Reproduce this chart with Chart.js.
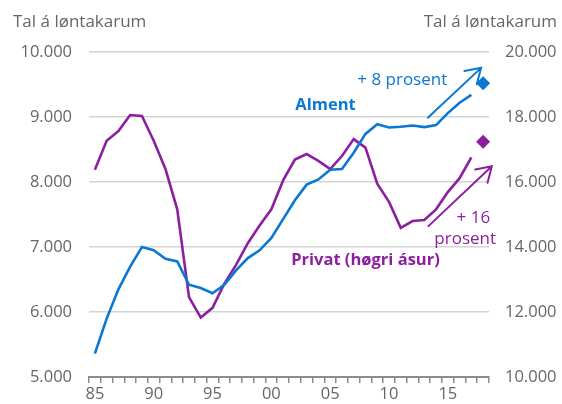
<!DOCTYPE html>
<html lang="fo">
<head>
<meta charset="UTF-8">
<title>Tal á løntakarum</title>
<script src="https://cdn.jsdelivr.net/npm/chart.js"></script>
<style>
  body { margin: 0; background: #fff; }
</style>
</head>
<body>
<canvas id="myChart" width="562" height="404"></canvas>
<script>
  // ár 1985-2018
  var aar = [1985, 1986, 1987, 1988, 1989, 1990, 1991, 1992, 1993, 1994,
             1995, 1996, 1997, 1998, 1999, 2000, 2001, 2002, 2003, 2004,
             2005, 2006, 2007, 2008, 2009, 2010, 2011, 2012, 2013, 2014,
             2015, 2016, 2017, 2018];

  // Alment (vinstra ásur)
  var alment = [5360, 5900, 6350, 6700, 7000, 6950, 6820, 6780, 6420, 6370,
                6290, 6420, 6640, 6830, 6950, 7140, 7430, 7720, 7960, 8040,
                8190, 8200, 8450, 8740, 8890, 8840, 8850, 8870, 8845, 8875,
                9060, 9220, 9340, null];
  var almentMal = [null, null, null, null, null, null, null, null, null, null,
                   null, null, null, null, null, null, null, null, null, null,
                   null, null, null, null, null, null, null, null, null, null,
                   null, null, null, 9520];

  // Privat (høgri ásur)
  var privat = [16380, 17270, 17570, 18060, 18030, 17270, 16400, 15160, 12460, 11830,
                12130, 12870, 13450, 14120, 14660, 15160, 16050, 16690, 16860, 16650,
                16400, 16800, 17320, 17060, 15950, 15390, 14590, 14800, 14830, 15160,
                15690, 16120, 16760, null];
  var privatMal = [null, null, null, null, null, null, null, null, null, null,
                   null, null, null, null, null, null, null, null, null, null,
                   null, null, null, null, null, null, null, null, null, null,
                   null, null, null, 17240];

  var vinstraTicks = [5000, 6000, 7000, 8000, 9000, 10000];
  var hograTicks = [10000, 12000, 14000, 16000, 18000, 20000];

  var bla = '#0a78d2';
  var lilla = '#8c1fa0';
  var gratt = '#666666';
  var skrift = "'Open Sans', sans-serif";

  function tusund(v) {
    return String(v).replace(/\B(?=(\d{3})+(?!\d))/g, '.');
  }

  // pílar og tekstir (x = ár, y = virði á ásinum)
  var pilar = [
    { fra: [2013.3, 8990], til: [2017.83, 9756], as: 'y', litur: bla },
    { fra: [2013.35, 14644], til: [2018.74, 16485], as: 'y1', litur: lilla }
  ];
  var tekstir = [
    { tekst: '+ 8 prosent', x: 2014.95, y: 9573, as: 'y', litur: bla, feitt: false, align: 'right' },
    { tekst: 'Alment', x: 2004.6, y: 9181, as: 'y', litur: bla, feitt: true, align: 'center' },
    { tekst: 'Privat (høgri ásur)', x: 2008.0, y: 13607, as: 'y1', litur: lilla, feitt: true, align: 'center' },
    { tekst: '+ 16', x: 2018.6, y: 14878, as: 'y1', litur: lilla, feitt: false, align: 'right' },
    { tekst: 'prosent', x: 2019.1, y: 14247, as: 'y1', litur: lilla, feitt: false, align: 'right' }
  ];

  var teknaPlugin = {
    id: 'tekna',
    afterDatasetsDraw: function (chart) {
      var ctx = chart.ctx;
      var xs = chart.scales.x;
      ctx.save();
      pilar.forEach(function (p) {
        var ys = chart.scales[p.as];
        var x1 = xs.getPixelForValue(p.fra[0] - aar[0]);
        var y1 = ys.getPixelForValue(p.fra[1]);
        var x2 = xs.getPixelForValue(p.til[0] - aar[0]);
        var y2 = ys.getPixelForValue(p.til[1]);
        var vinkul = Math.atan2(y2 - y1, x2 - x1);
        var l = 17;
        ctx.strokeStyle = p.litur;
        ctx.lineWidth = 2;
        ctx.lineCap = 'round';
        ctx.beginPath();
        ctx.moveTo(x1, y1);
        ctx.lineTo(x2, y2);
        ctx.moveTo(x2 - l * Math.cos(vinkul - 0.56), y2 - l * Math.sin(vinkul - 0.56));
        ctx.lineTo(x2, y2);
        ctx.lineTo(x2 - l * Math.cos(vinkul + 0.56), y2 - l * Math.sin(vinkul + 0.56));
        ctx.stroke();
      });
      ctx.textBaseline = 'middle';
      tekstir.forEach(function (t) {
        var ys = chart.scales[t.as];
        ctx.fillStyle = t.litur;
        ctx.font = (t.feitt ? 'bold 16.5px ' : '17px ') + skrift;
        ctx.textAlign = t.align;
        ctx.fillText(t.tekst, xs.getPixelForValue(t.x - aar[0]), ys.getPixelForValue(t.y));
      });
      // ásheiti
      ctx.fillStyle = gratt;
      ctx.font = '17px ' + skrift;
      ctx.textAlign = 'left';
      ctx.fillText('Tal á løntakarum', 13, 22);
      ctx.textAlign = 'right';
      ctx.fillText('Tal á løntakarum', chart.width - 5, 22);
      ctx.restore();
    }
  };

  const dados = {
    labels: aar,
    datasets: [
      { label: 'Alment', data: alment, yAxisID: 'y', borderColor: bla, borderWidth: 2.6,
        pointRadius: 0, tension: 0 },
      { label: 'Privat', data: privat, yAxisID: 'y1', borderColor: lilla, borderWidth: 2.6,
        pointRadius: 0, tension: 0 },
      { label: 'Alment mál', data: almentMal, yAxisID: 'y', showLine: false,
        pointStyle: 'rectRot', pointRadius: 7, backgroundColor: bla, borderWidth: 0 },
      { label: 'Privat mál', data: privatMal, yAxisID: 'y1', showLine: false,
        pointStyle: 'rectRot', pointRadius: 7, backgroundColor: lilla, borderWidth: 0 }
    ]
  };

  const config = {
    type: 'line',
    data: dados,
    plugins: [teknaPlugin],
    options: {
      responsive: false,
      animation: false,
      layout: { padding: { top: 52, left: 0, right: 0, bottom: 0 } },
      plugins: { legend: { display: false }, tooltip: { enabled: false } },
      scales: {
        x: {
          offset: true,
          grid: { offset: true, drawOnChartArea: false, drawTicks: true, tickLength: 6,
                  color: '#8c8c8c', lineWidth: 1.5 },
          border: { display: true, color: '#8c8c8c', width: 2 },
          ticks: {
            autoSkip: false, maxRotation: 0, padding: 1, color: gratt,
            font: { family: skrift, size: 16.5 },
            callback: function (v, i) {
              var a = aar[i];
              return a % 5 === 0 ? String(a).slice(2) : '';
            }
          },
          afterFit: function (s) { s.height = 24; }
        },
        y: {
          position: 'left', min: 5000, max: 10000,
          afterBuildTicks: function (s) { s.ticks = vinstraTicks.map(function (v) { return { value: v }; }); },
          grid: { color: '#d4d4d4', lineWidth: 1.5, drawTicks: false },
          border: { display: false },
          ticks: { padding: 17, color: gratt, font: { family: skrift, size: 16.5 },
                   callback: function (v) { return tusund(v); } },
          afterFit: function (s) { s.width = 89; }
        },
        y1: {
          position: 'right', min: 10000, max: 20000,
          afterBuildTicks: function (s) { s.ticks = hograTicks.map(function (v) { return { value: v }; }); },
          grid: { drawOnChartArea: false, drawTicks: false },
          border: { display: false },
          ticks: { padding: 16, color: gratt, font: { family: skrift, size: 16.5 },
                   callback: function (v) { return tusund(v); } },
          afterFit: function (s) { s.width = 73; }
        }
      }
    }
  };

  const myChart = new Chart(document.getElementById('myChart'), config);
</script>
</body>
</html>
